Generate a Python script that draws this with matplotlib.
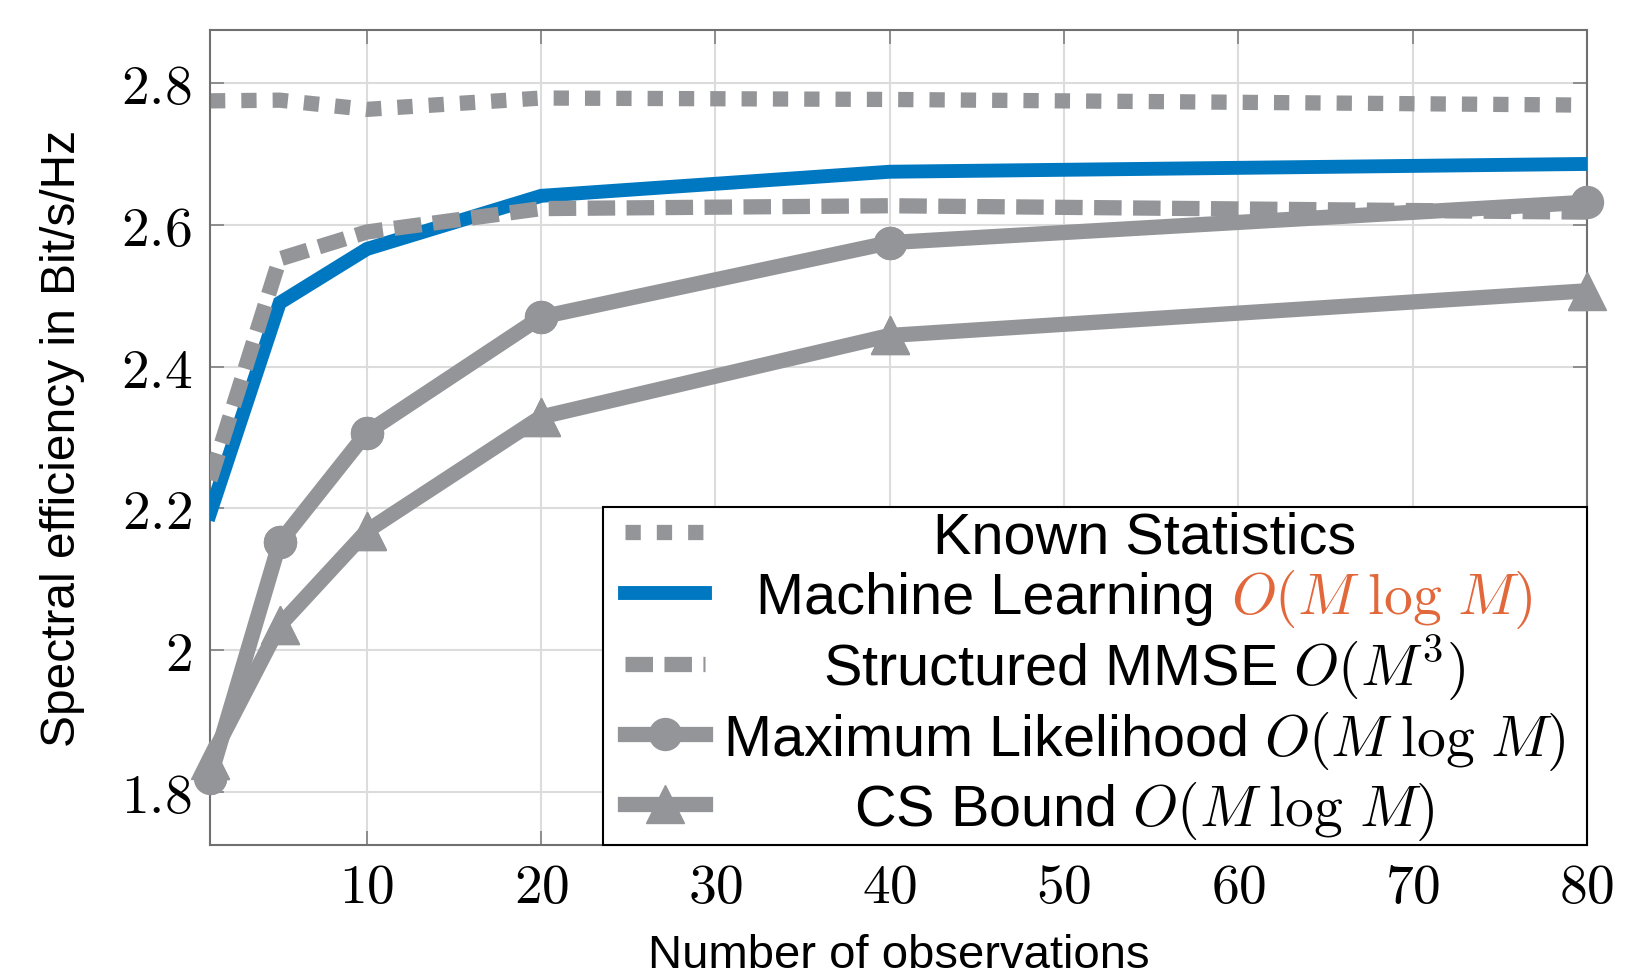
import numpy as np
import matplotlib
matplotlib.use("Agg")
import matplotlib.pyplot as plt
from matplotlib.patches import Rectangle

plt.rcParams['font.family'] = ['Liberation Sans', 'DejaVu Sans']
plt.rcParams['mathtext.fontset'] = 'cm'

# number of observations
n_obs = [1, 5, 10, 20, 40, 80]

# spectral efficiency (Bit/s/Hz) per estimator
known_stats = [2.775, 2.776, 2.763, 2.779, 2.777, 2.769]
machine_learning = [2.193, 2.490, 2.566, 2.641, 2.675, 2.686]
structured_mmse = [2.240, 2.552, 2.590, 2.623, 2.627, 2.618]
max_likelihood = [1.820, 2.152, 2.307, 2.470, 2.575, 2.632]
cs_bound = [1.845, 2.035, 2.168, 2.329, 2.444, 2.507]

xticks = [10, 20, 30, 40, 50, 60, 70, 80]
yticks = [1.8, 2.0, 2.2, 2.4, 2.6, 2.8]

gray = '#939598'
blue = '#0078c1'
orange = '#e2673a'
mlogm = r'$O(M\;\log\,M)$'

fig = plt.figure(figsize=(16.43, 9.79), dpi=100)
ax_px = (210, 31, 1587, 846)  # left, top, right, bottom in pixels
ax = fig.add_axes([ax_px[0] / 1643, 1 - ax_px[3] / 979,
                   (ax_px[2] - ax_px[0]) / 1643, (ax_px[3] - ax_px[1]) / 979])

ax.plot(n_obs, known_stats, color=gray, lw=11, dashes=(1.0, 1.05),
        dash_capstyle='butt', label='Known Statistics', zorder=2)
ax.plot(n_obs, machine_learning, color=blue, lw=10, solid_joinstyle='miter',
        label='Machine Learning', zorder=3)
ax.plot(n_obs, structured_mmse, color=gray, lw=11, dashes=(1.8, 0.75),
        dash_capstyle='butt', label=r'Structured MMSE $O(M^3)$', zorder=4)
ax.plot(n_obs, max_likelihood, color=gray, lw=11, marker='o', ms=23,
        label='Maximum Likelihood ' + mlogm, zorder=5)
ax.plot(n_obs, cs_bound, color=gray, lw=11, marker='^', ms=28,
        label='CS Bound ' + mlogm, zorder=6)

# markers sticking out past the frame
ax.plot(n_obs, max_likelihood, ls='none', color=gray, marker='o', ms=23,
        clip_on=False, zorder=5)
ax.plot(n_obs, cs_bound, ls='none', color=gray, marker='^', ms=28,
        clip_on=False, zorder=6)

ax.set_xlim(1, 80)
ax.set_ylim(1.725, 2.875)
ax.set_xticks(xticks, labels=[f'${v}$' for v in xticks])
ax.set_yticks(yticks, labels=[f'${v:g}$' for v in yticks])
ax.tick_params(direction='in', length=10, width=1.2, color='#808080',
               labelsize=40, top=True, right=True)
ax.tick_params(axis='y', pad=13)
ax.tick_params(axis='x', pad=12)
ax.grid(True, color='#dcdcdc', lw=1.5)
ax.set_axisbelow(True)
for sp in ax.spines.values():
    sp.set_color('#707070')
    sp.set_linewidth(1.5)

ax.set_xlabel('Number of observations', fontsize=34, labelpad=14)
ax.set_ylabel('Spectral efficiency in Bit/s/Hz', fontsize=34.5, labelpad=26)

# legend without its own frame; a wider box is drawn behind it
pad_x = 18
ax_w = ax_px[2] - ax_px[0]
leg = ax.legend(loc='lower right', bbox_to_anchor=(1 - pad_x / ax_w, 0),
                borderaxespad=0, fontsize=41.5, handlelength=1.4,
                handletextpad=0.3, borderpad=0.06, labelspacing=0.12,
                frameon=False)
leg.set_zorder(10)

# centre the legend labels, MATLAB style; the ML complexity is drawn in orange
fig.canvas.draw()
renderer = fig.canvas.get_renderer()
texts = leg.get_texts()
ml_tail = fig.text(0, 0, ' ' + mlogm, fontsize=41.5, color=orange,
                   va='baseline', ha='left', zorder=11)
tail_w = ml_tail.get_window_extent(renderer).width
widths = [t.get_window_extent(renderer).width for t in texts]
widths[1] += tail_w
max_w = max(widths)
for t, w in zip(texts, widths):
    t.set_position(((max_w - w) / 2, 0))
fig.canvas.draw()
ml = texts[1]
bb = ml.get_window_extent(renderer)
x0, y0 = ml.get_transform().transform(ml.get_position())
ml_tail.set_position((bb.x1 / fig.bbox.width, y0 / fig.bbox.height))

lb = leg.get_window_extent(renderer)
inv = ax.transAxes.inverted()
(bx0, by0), (bx1, by1) = inv.transform([(lb.x0 - pad_x, lb.y0), (lb.x1 + pad_x, lb.y1)])
ax.add_patch(Rectangle((bx0, by0), bx1 - bx0, by1 - by0, transform=ax.transAxes,
                       facecolor='white', edgecolor='black', lw=1.5,
                       clip_on=False, zorder=9))

fig.savefig('out.png', dpi=100)
